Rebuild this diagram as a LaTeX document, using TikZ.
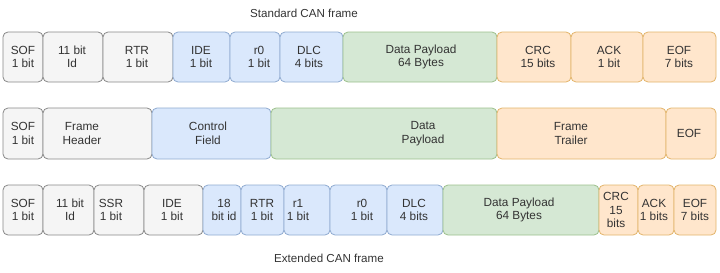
\documentclass[tikz,border=0pt]{standalone}
\usepackage{fontspec}
\setmainfont{Liberation Sans}
\definecolor{gfill}{HTML}{F5F5F5}\definecolor{gline}{HTML}{888888}
\definecolor{bfill}{HTML}{DAE8FC}\definecolor{bline}{HTML}{8FAAD0}
\definecolor{nfill}{HTML}{D5E8D4}\definecolor{nline}{HTML}{9CC08C}
\definecolor{ofill}{HTML}{FFE6CC}\definecolor{oline}{HTML}{E2B46A}
\definecolor{txt}{HTML}{333333}
\tikzset{
  cellbase/.style={rectangle, rounded corners=5pt, line width=0.8pt, inner sep=0pt, outer sep=0pt, anchor=north west},
  gbox/.style={cellbase, draw=gline, fill=gfill},
  bbox/.style={cellbase, draw=bline, fill=bfill},
  nbox/.style={cellbase, draw=nline, fill=nfill},
  obox/.style={cellbase, draw=oline, fill=ofill},
  celltext/.style={inner sep=0pt, align=center, text=txt, font=\fontsize{11.8}{13.5}\selectfont},
  titletext/.style={inner sep=0pt, text=txt, font=\fontsize{11.6}{13.5}\selectfont}
}
% name, style, x1, x2, y1, y2, text x, text
\newcommand\cancell[8]{%
  \node[#2, minimum width={(#4-#3)*1pt}, minimum height={(#6-#5)*1pt}] (#1) at (#3,#5) {};
  \node[celltext] (#1-t) at (#7,{(#5+#6)/2}) {#8};
}
\begin{document}
\begin{tikzpicture}[x=1pt,y=-1pt]
\useasboundingbox (0,0) rectangle (720,273);
\node[titletext] (t1) at (304,13) {Standard CAN frame};
\node[titletext] (t3) at (329,258) {Extended CAN frame};
% Row 1
\cancell{a1}{gbox}{3}{43}{32}{82}{23}{SOF\\1 bit}
\cancell{a2}{gbox}{43}{103}{32}{82}{72}{11 bit\\Id}
\cancell{a3}{gbox}{103}{173}{32}{82}{137}{RTR\\1 bit}
\cancell{a4}{bbox}{173}{230}{32}{82}{201}{IDE\\1 bit}
\cancell{a5}{bbox}{230}{280}{32}{82}{259}{r0\\1 bit}
\cancell{a6}{bbox}{280}{343}{32}{82}{309}{DLC\\4 bits}
\cancell{a7}{nbox}{343}{497}{32}{82}{421}{Data Payload\\64 Bytes}
\cancell{a8}{obox}{497}{571}{32}{82}{538}{CRC\\15 bits}
\cancell{a9}{obox}{571}{643}{32}{82}{609}{ACK\\1 bit}
\cancell{a10}{obox}{643}{716}{32}{82}{679}{EOF\\7 bits}
% Row 2
\cancell{b1}{gbox}{3}{43}{108}{159}{23}{SOF\\1 bit}
\cancell{b2}{gbox}{43}{152}{108}{159}{82}{Frame\\Header}
\cancell{b3}{bbox}{152}{271}{108}{159}{208}{Control\\Field}
\cancell{b4}{nbox}{271}{497}{108}{159}{423}{Data\\Payload}
\cancell{b5}{obox}{497}{666}{108}{159}{571}{Frame\\Trailer}
\cancell{b6}{obox}{666}{716}{108}{159}{689}{EOF}
% Row 3
\cancell{c1}{gbox}{3}{43}{185}{235}{23}{SOF\\1 bit}
\cancell{c2}{gbox}{43}{94}{185}{235}{70}{11 bit\\Id}
\cancell{c3}{gbox}{94}{144}{185}{235}{111}{SSR\\1 bit}
\cancell{c4}{gbox}{144}{203}{185}{235}{172}{IDE\\1 bit}
\cancell{c5}{bbox}{203}{241}{185}{235}{224}{18\\bit id}
\cancell{c6}{bbox}{241}{284}{185}{235}{262}{RTR\\1 bit}
\cancell{c7}{bbox}{284}{330}{185}{235}{298}{r1\\1 bit}
\cancell{c8}{bbox}{330}{387}{185}{235}{362}{r0\\1 bit}
\cancell{c9}{bbox}{387}{443}{185}{235}{414}{DLC\\4 bits}
\cancell{c10}{nbox}{443}{599}{185}{235}{519}{Data Payload\\64 Bytes}
\cancell{c11}{obox}{599}{638}{185}{235}{616}{CRC\\15\\bits}
\cancell{c12}{obox}{638}{674}{185}{235}{654}{ACK\\1 bits}
\cancell{c13}{obox}{674}{716}{185}{235}{695}{EOF\\7 bits}
\end{tikzpicture}
\end{document}
